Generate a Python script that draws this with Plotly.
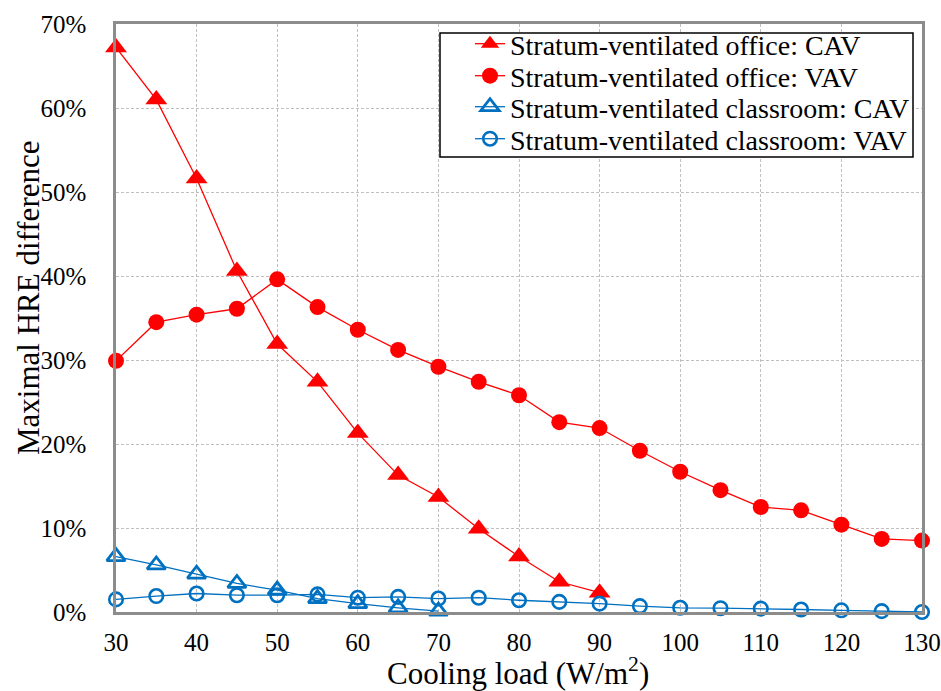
import plotly.graph_objects as go

x_office_cav = [30, 35, 40, 45, 50, 55, 60, 65, 70, 75, 80, 85, 90]
office_cav = [67.2, 61.0, 51.6, 40.6, 31.9, 27.4, 21.3, 16.3, 13.7, 9.9, 6.6, 3.6, 2.3]

x_office_vav = [30, 35, 40, 45, 50, 55, 60, 65, 70, 75, 80, 85, 90, 95, 100, 105, 110, 115, 120, 125, 130]
office_vav = [29.9, 34.5, 35.4, 36.1, 39.6, 36.3, 33.6, 31.2, 29.2, 27.4, 25.8, 22.6, 21.9, 19.2, 16.7, 14.5, 12.5, 12.1, 10.4, 8.7, 8.5]

x_class_cav = [30, 35, 40, 45, 50, 55, 60, 65, 70]
class_cav = [6.6, 5.6, 4.5, 3.4, 2.6, 1.6, 1.0, 0.5, 0.1]

x_class_vav = [30, 35, 40, 45, 50, 55, 60, 65, 70, 75, 80, 85, 90, 95, 100, 105, 110, 115, 120, 125, 130]
class_vav = [1.5, 1.9, 2.2, 2.0, 2.0, 2.1, 1.7, 1.8, 1.6, 1.7, 1.4, 1.2, 1.0, 0.7, 0.5, 0.45, 0.4, 0.3, 0.2, 0.1, 0.0]

series_names = ["Stratum-ventilated office: CAV", "Stratum-ventilated office: VAV",
                "Stratum-ventilated classroom: CAV", "Stratum-ventilated classroom: VAV"]

x_ticks = [30, 40, 50, 60, 70, 80, 90, 100, 110, 120, 130]
y_ticks = [0, 10, 20, 30, 40, 50, 60, 70]
y_tick_labels = [f"{v}%" for v in y_ticks]

RED = "#FF0000"
BLUE = "#0070C0"
FONT = "Liberation Serif, Times New Roman, Times, serif"

W, H = 941, 691
L, R, T, B = 116, 19, 24, 79
PW, PH = W - L - R, H - T - B


def px2paper_x(px):
    return (px - L) / PW


def px2paper_y(py):
    return (H - B - py) / PH


fig = go.Figure()
fig.add_trace(go.Scatter(x=x_office_cav, y=office_cav, mode="lines+markers",
                         name=series_names[0], legend="legend",
                         line=dict(color=RED, width=1.3),
                         marker=dict(symbol="triangle-up", size=19, color=RED)))
fig.add_trace(go.Scatter(x=x_office_vav, y=office_vav, mode="lines+markers",
                         name=series_names[1], legend="legend2",
                         line=dict(color=RED, width=1.3),
                         marker=dict(symbol="circle", size=16, color=RED)))
fig.add_trace(go.Scatter(x=x_class_cav, y=class_cav, mode="lines+markers",
                         name=series_names[2], legend="legend3",
                         line=dict(color=BLUE, width=1.3),
                         marker=dict(symbol="triangle-up-open", size=16, color=BLUE,
                                     line=dict(width=2.8, color=BLUE))))
fig.add_trace(go.Scatter(x=x_class_vav, y=class_vav, mode="lines+markers",
                         name=series_names[3], legend="legend4",
                         line=dict(color=BLUE, width=1.3),
                         marker=dict(symbol="circle-open", size=13.5, color=BLUE,
                                     line=dict(width=2.6, color=BLUE))))
for tr in fig.data:
    tr.cliponaxis = False

row_centers = [44, 76, 107, 139]
legend_x = px2paper_x(470)
leg_common = dict(bgcolor="rgba(0,0,0,0)", borderwidth=0,
                  font=dict(family=FONT, size=28, color="black"),
                  xanchor="left", yanchor="middle", x=legend_x)

fig.update_layout(
    width=W, height=H,
    margin=dict(l=L, r=R, t=T, b=B, autoexpand=False),
    paper_bgcolor="white", plot_bgcolor="white",
    font=dict(family=FONT, size=25, color="black"),
    showlegend=True,
    legend=dict(leg_common, y=px2paper_y(row_centers[0])),
    legend2=dict(leg_common, y=px2paper_y(row_centers[1])),
    legend3=dict(leg_common, y=px2paper_y(row_centers[2])),
    legend4=dict(leg_common, y=px2paper_y(row_centers[3])),
    shapes=[dict(type="rect", xref="paper", yref="paper",
                 x0=px2paper_x(440), x1=px2paper_x(913),
                 y0=px2paper_y(157), y1=px2paper_y(33),
                 fillcolor="white", line=dict(color="black", width=1.5), layer="above")],
    xaxis=dict(range=[30, 130], tickvals=x_ticks, ticktext=[str(v) for v in x_ticks],
               showgrid=True, gridcolor="#BFBFBF", griddash="3px,2px", gridwidth=1,
               showline=True, linecolor="#8C8C8C", linewidth=2.5, mirror=True,
               ticks="outside", ticklen=6, tickcolor="rgba(0,0,0,0)", zeroline=False,
               automargin=False,
               tickfont=dict(family=FONT, size=25)),
    yaxis=dict(range=[0, 70], tickvals=y_ticks, ticktext=y_tick_labels,
               showgrid=True, gridcolor="#BFBFBF", griddash="3px,2px", gridwidth=1,
               showline=True, linecolor="#8C8C8C", linewidth=2.5, mirror=True,
               ticks="outside", ticklen=22, tickcolor="rgba(0,0,0,0)", zeroline=False,
               automargin=False,
               tickfont=dict(family=FONT, size=25)),
    annotations=[
        dict(text="Maximal HRE difference", xref="paper", yref="paper",
             x=px2paper_x(28), y=px2paper_y(298), textangle=-90,
             xanchor="center", yanchor="middle", showarrow=False,
             font=dict(family=FONT, size=31, color="black")),
        dict(text="Cooling load (W/m<sup>2</sup>)", xref="paper", yref="paper",
             x=px2paper_x(518), y=px2paper_y(672),
             xanchor="center", yanchor="middle", showarrow=False,
             font=dict(family=FONT, size=31, color="black")),
    ],
)

fig.write_html("out.html")
